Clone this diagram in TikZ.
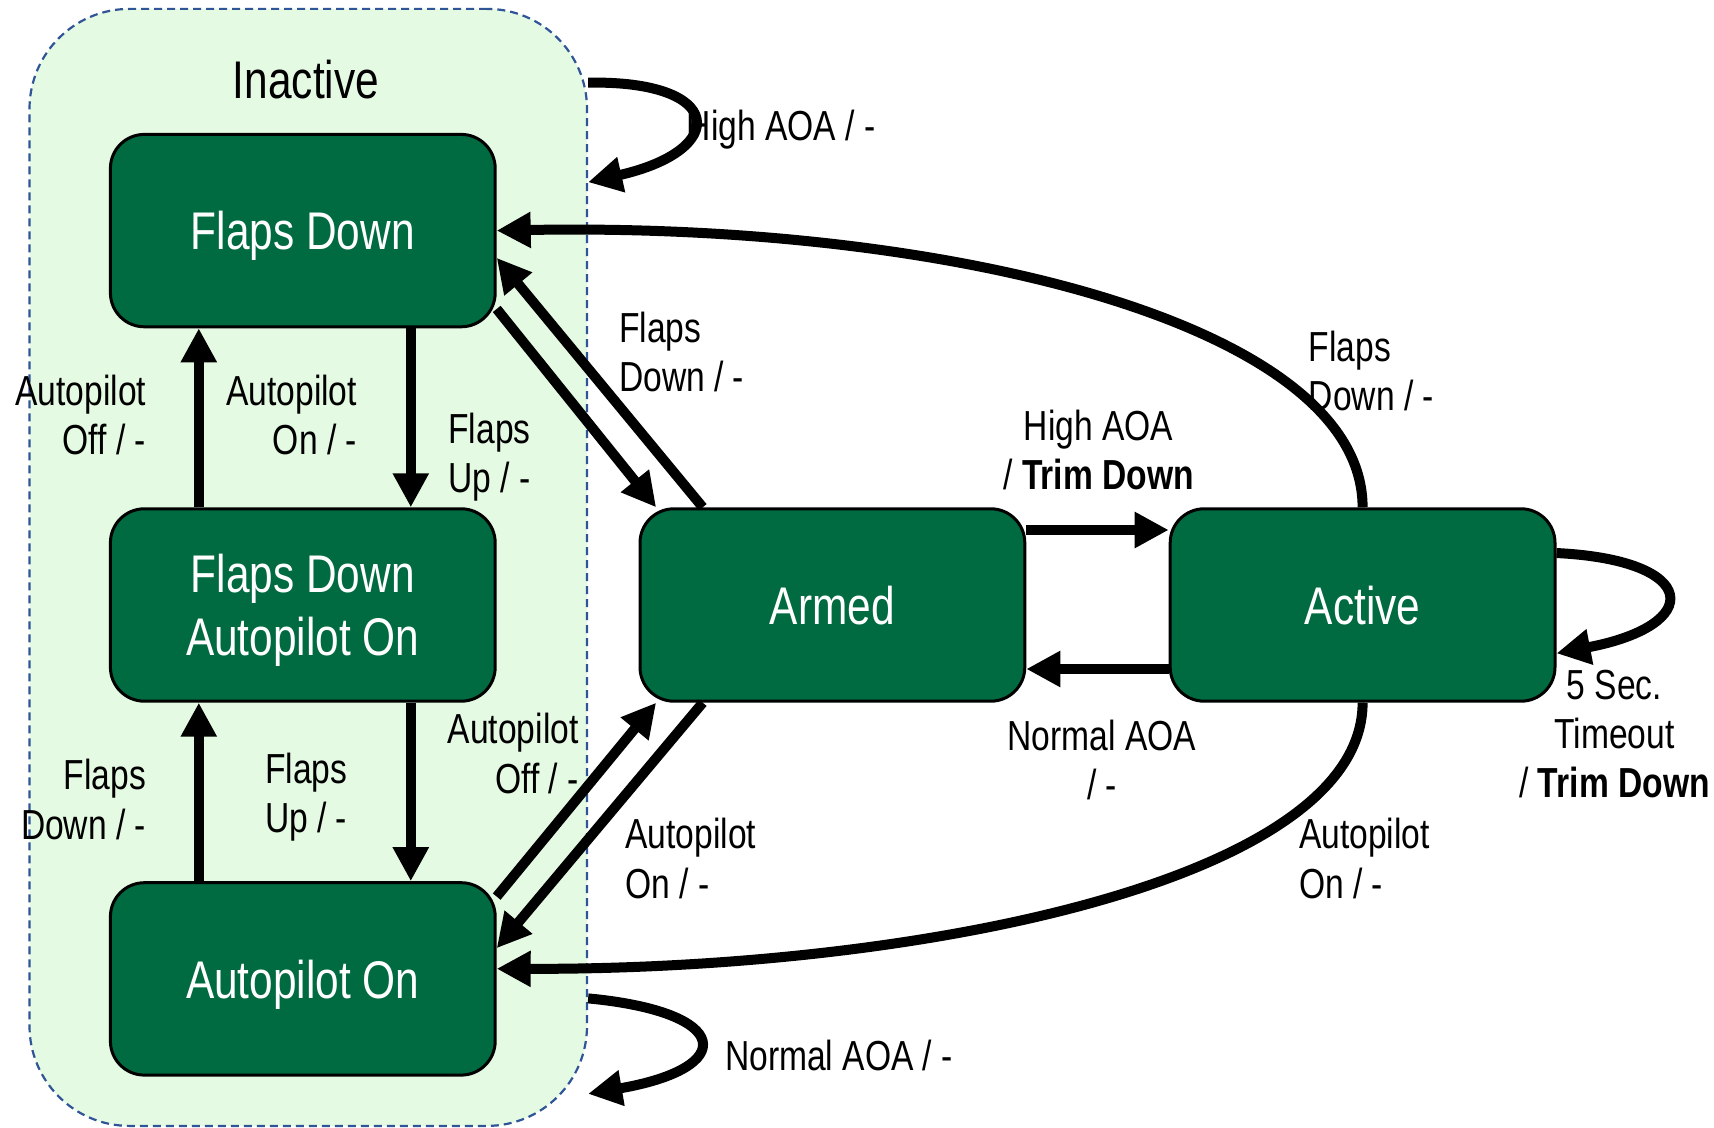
\documentclass[tikz,border=0pt]{standalone}
\usepackage{fontspec}
\setmainfont{Liberation Sans}[FakeStretch=0.8]
\usepackage{tikz}
\usetikzlibrary{arrows.meta,positioning}

\definecolor{stategreen}{RGB}{0,106,64}
\definecolor{groupfill}{RGB}{229,250,227}
\definecolor{groupline}{RGB}{47,85,151}

\begin{document}
\begin{tikzpicture}[
    x=0.5pt, y=-0.5pt,
    state/.style={rectangle, draw=black, line width=1.5pt, rounded corners=17pt, fill=stategreen, text=white, align=center, minimum width=192.4pt, minimum height=96.2pt, inner sep=0pt, text depth=0pt, font=\fontsize{26.5pt}{31.7pt}\selectfont},
    group/.style={rectangle, draw=groupline, line width=1.1pt, dash pattern=on 4pt off 2.5pt, fill=groupfill, rounded corners=50pt, minimum width=278.75pt, minimum height=558.5pt},
    title/.style={inner sep=0pt, font=\fontsize{26.5pt}{31.7pt}\selectfont},
    guard/.style={inner sep=0pt, font=\fontsize{21pt}{24.6pt}\selectfont},
    trans/.style={-{Triangle[length=17pt,width=17pt]}, line width=5pt}
]
    \useasboundingbox (0,0) rectangle (1714,1128);

    % --- INACTIVE GROUP ---
    \node[group] (Inactive) at (308.25,567.4) {};
    \node[title] (InactiveLabel) at (306,80) {Inactive};

    % --- STATES ---
    \node[state] (FlapsDown) at (302.8,230.6) {Flaps Down};
    \node[state] (FlapsDownAP) at (302.8,605) {Flaps Down\\Autopilot On};
    \node[state] (AutopilotOn) at (302.8,978.9) {Autopilot On};
    \node[state] (Armed) at (832.4,605) {Armed};
    \node[state] (Active) at (1362.6,605) {Active};

    % ================= TRANSITIONS =================

    % inside the inactive group
    \draw[trans] ([xshift=54pt]FlapsDown.south) -- ([xshift=54pt]FlapsDownAP.north);
    \draw[trans] ([xshift=-52pt]FlapsDownAP.north) -- ([xshift=-52pt]FlapsDown.south);
    \draw[trans] ([xshift=54pt]FlapsDownAP.south) -- ([xshift=54pt]AutopilotOn.north);
    \draw[trans] ([xshift=-52pt]AutopilotOn.north) -- ([xshift=-52pt]FlapsDownAP.south);

    % self loops on the group
    \draw[trans] (Inactive.60.6) .. controls (725,80) and (730,150) .. (Inactive.54.9);
    \draw[trans] (Inactive.-57.4) .. controls (733,1012) and (738,1068) .. (Inactive.-62.3);

    % to and from armed
    \draw[trans] (FlapsDown.-22) -- (Armed.151);
    \draw[trans] (Armed.143) -- (FlapsDown.-8);
    \draw[trans] (AutopilotOn.23) -- (Armed.209);
    \draw[trans] (Armed.217) -- (AutopilotOn.9);
    \draw[trans] ([yshift=37.5pt]Armed.east) -- ([yshift=37.5pt]Active.west);
    \draw[trans] ([yshift=-32pt]Active.west) -- ([yshift=-32pt]Armed.east);

    % from active
    \draw[trans] (Active.north) .. controls (1362.6,325) and (950,222) .. (FlapsDown.east);
    \draw[trans] (Active.south) .. controls (1362.6,880) and (920,970) .. (AutopilotOn.3);
    \draw[trans] (Active.15) .. controls (1700,560) and (1705,625) .. (Active.-14);

    % ================= GUARDS =================
    \node[guard, anchor=west] (gHighLoop) at (686.5,130) {High AOA / -};
    \node[guard, anchor=west, align=left] (gArmedFD) at (618.7,352) {Flaps\\Down / -};
    \node[guard, anchor=west, align=left] (gActiveFD) at (1308.5,371) {Flaps\\Down / -};
    \node[guard, align=center] (gHigh) at (1098.6,450) {High AOA\\/ \textbf{Trim Down}};
    \node[guard, align=center] (gNormal) at (1102,760) {Normal AOA\\/ -};
    \node[guard, align=center] (gTimeout) at (1614.5,734) {5 Sec.\\Timeout\\/ \textbf{Trim Down}};
    \node[guard, anchor=west, align=left] (gActiveAP) at (1298.6,858.5) {Autopilot\\On / -};
    \node[guard, anchor=west, align=left] (gArmedAP) at (625,858.5) {Autopilot\\On / -};
    \node[guard, anchor=east, align=right] (gAPOffArmed) at (579,753.5) {Autopilot\\Off / -};
    \node[guard, anchor=east, align=right] (gAPOff) at (146.5,415) {Autopilot\\Off / -};
    \node[guard, anchor=east, align=right] (gAPOnTop) at (357.4,415) {Autopilot\\On / -};
    \node[guard, anchor=east, align=right] (gFlapsUpTop) at (531,457.5) {Flaps\\Up / -};
    \node[guard, anchor=east, align=right] (gFlapsDownBot) at (146.5,799.5) {Flaps\\Down / -};
    \node[guard, anchor=east, align=right] (gFlapsUpBot) at (347.6,797.5) {Flaps\\Up / -};
    \node[guard, anchor=west] (gNormalLoop) at (724.7,1055) {Normal AOA / -};

\end{tikzpicture}
\end{document}
